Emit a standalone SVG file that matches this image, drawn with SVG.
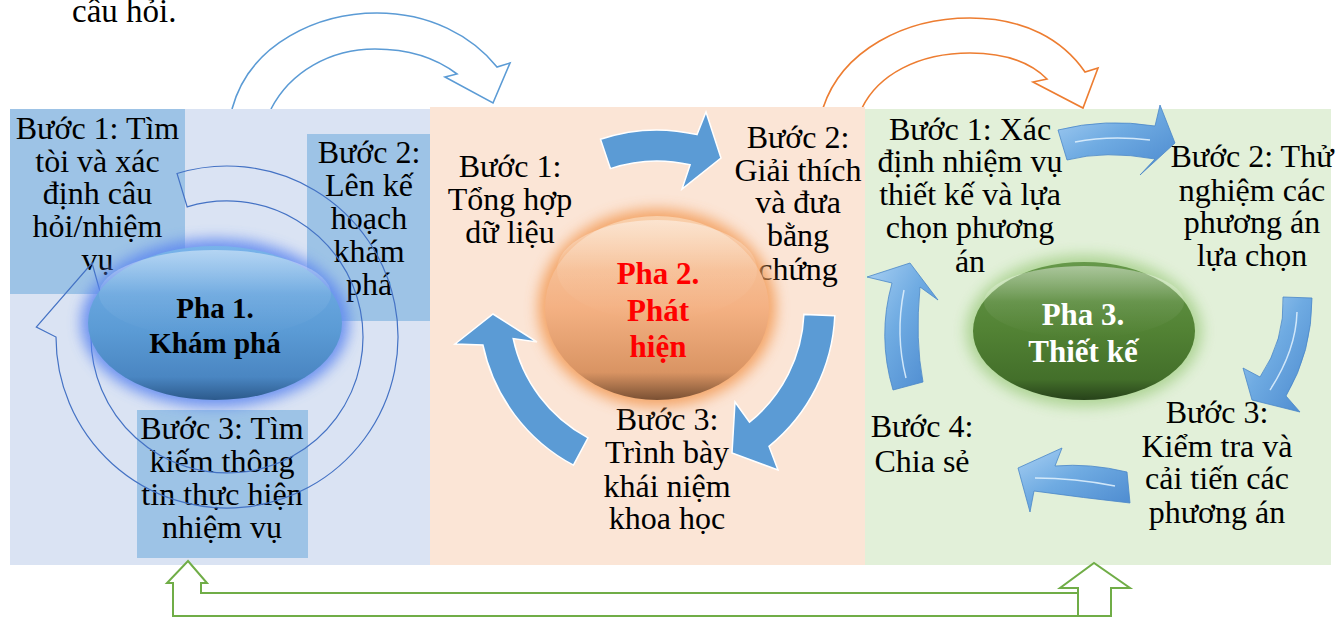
<svg xmlns="http://www.w3.org/2000/svg" width="1337" height="618" viewBox="0 0 1337 618">
<style>
.t{font-family:"Liberation Serif","Times New Roman",serif;font-size:32px;fill:#000;text-anchor:middle}
.ph{font-family:"Liberation Serif","Times New Roman",serif;font-weight:bold;text-anchor:middle}
.bx{fill:#9DC3E6}
.a2{fill:#5B9BD5;stroke:#fff;stroke-width:1.5}
.a3{fill:url(#g3d);stroke:#4A86C8;stroke-width:0.8}
.hl{fill:none;stroke:#DDEEFC;stroke-width:1.5;opacity:0.9}
</style>
<defs>
<filter id="glow" x="-40%" y="-40%" width="180%" height="180%"><feGaussianBlur stdDeviation="7"/></filter>
<linearGradient id="gBlue" x1="0" y1="0" x2="0" y2="1">
<stop offset="0" stop-color="#78B3EA"/><stop offset="0.55" stop-color="#5B9BD5"/><stop offset="0.85" stop-color="#4A86C2"/><stop offset="1" stop-color="#2C5A8C"/></linearGradient>
<linearGradient id="gOr" x1="0" y1="0" x2="0" y2="1">
<stop offset="0" stop-color="#F9CFAA"/><stop offset="0.5" stop-color="#F4B183"/><stop offset="0.85" stop-color="#D99463"/><stop offset="1" stop-color="#7A5033"/></linearGradient>
<linearGradient id="gGr" x1="0" y1="0" x2="0" y2="1">
<stop offset="0" stop-color="#66984A"/><stop offset="0.5" stop-color="#528234"/><stop offset="0.85" stop-color="#436F2A"/><stop offset="1" stop-color="#27421A"/></linearGradient>
<linearGradient id="gHi" x1="0" y1="0" x2="0" y2="1">
<stop offset="0" stop-color="#fff" stop-opacity="0.45"/><stop offset="0.5" stop-color="#fff" stop-opacity="0.08"/><stop offset="1" stop-color="#fff" stop-opacity="0"/></linearGradient>
<linearGradient id="g3d" x1="0" y1="0" x2="1" y2="1">
<stop offset="0" stop-color="#A9D0F3"/><stop offset="0.45" stop-color="#6FABE2"/><stop offset="1" stop-color="#4A88CE"/></linearGradient>
</defs>

<text x="72" y="22" style="font-family:'Liberation Serif','Times New Roman',serif;font-size:33px">câu hỏi.</text>

<g id="connectors">
<path d="M232,109 C250,42 320,13 377,13 C430,13 472,36 497,67 L510,63 L493,103 L445,77 L457,74 C436,58 408,49 375,49 C330,49 290,72 271,109" fill="#fff" stroke="#5B9BD5" stroke-width="1.6"/>
<path d="M823,108 C842,50 905,18 970,18 C1025,18 1063,40 1085,72 L1098,68 L1083,108 L1033,82 L1047,79 C1030,62 1003,53 970,53 C918,53 878,75 862,108" fill="#fff" stroke="#ED7D31" stroke-width="1.6"/>
</g>

<g id="panel1">
<rect x="10" y="109" width="420" height="456" fill="#DAE3F3"/>
<rect class="bx" x="10" y="109" width="175" height="185"/>
<rect class="bx" x="307" y="134" width="123" height="187"/>
<rect class="bx" x="137" y="410" width="171" height="148"/>
</g>
<g id="panel2"><rect x="430" y="107" width="435" height="458" fill="#FBE5D6"/></g>
<g id="panel3"><rect x="865" y="109" width="466" height="456" fill="#E2F0D9"/></g>

<g id="p1-steps">
<text class="t" x="97.5" y="139">Bước 1: Tìm</text>
<text class="t" x="97.5" y="172">tòi và xác</text>
<text class="t" x="97.5" y="204">định câu</text>
<text class="t" x="97.5" y="237">hỏi/nhiệm</text>
<text class="t" x="97.5" y="270">vụ</text>
<text class="t" x="369" y="163">Bước 2:</text>
<text class="t" x="369" y="196">Lên kế</text>
<text class="t" x="369" y="229">hoạch</text>
<text class="t" x="369" y="262">khám</text>
<text class="t" x="369" y="295">phá</text>
<text class="t" x="222" y="439">Bước 3: Tìm</text>
<text class="t" x="222" y="472">kiếm thông</text>
<text class="t" x="222" y="505">tin thực hiện</text>
<text class="t" x="222" y="538">nhiệm vụ</text>
</g>

<g id="p1-cycle">
<path d="M177,173.5 A171,171 0 1 1 56,337 L36.3,327 L92,263 L111.2,330.9 L91,337 A136,136 0 1 0 187.2,206.9 Z" fill="none" stroke="#4472C4" stroke-width="1.2"/>
</g>

<g id="pha1">
<ellipse cx="215" cy="323" rx="134" ry="84" fill="#5A84F0" opacity="0.85" filter="url(#glow)"/>
<ellipse cx="215" cy="323" rx="127" ry="77" fill="url(#gBlue)"/>
<ellipse cx="215" cy="294" rx="116" ry="44" fill="url(#gHi)"/>
<text class="ph" x="215" y="318" font-size="29">Pha 1.</text>
<text class="ph" x="215" y="353" font-size="29">Khám phá</text>
</g>

<g id="p2-steps">
<text class="t" x="510" y="177">Bước 1:</text>
<text class="t" x="510" y="210">Tổng hợp</text>
<text class="t" x="510" y="243">dữ liệu</text>
<text class="t" x="798" y="148">Bước 2:</text>
<text class="t" x="798" y="181">Giải thích</text>
<text class="t" x="798" y="213">và đưa</text>
<text class="t" x="798" y="246">bằng</text>
<text class="t" x="798" y="280">chứng</text>
<text class="t" x="667" y="430">Bước 3:</text>
<text class="t" x="667" y="463">Trình bày</text>
<text class="t" x="667" y="497">khái niệm</text>
<text class="t" x="667" y="529">khoa học</text>
</g>

<g id="p2-arrows">
<path class="a2" d="M600.5,139.2 A178,178 0 0 1 697,134.6 L706,112 L721,158 L682,189 L690.1,164.8 A147,147 0 0 0 610.4,168.6 Z"/>
<path class="a2" d="M834.8,315.8 A178,178 0 0 1 769,446.3 L778,470 L732,453 L735,402 L749.5,422.2 A147,147 0 0 0 803.9,314.4 Z"/>
<path class="a2" d="M573.4,465.2 A178,178 0 0 1 482.9,345 L455,344 L493,314 L537,342 L513.2,338.6 A147,147 0 0 0 588,437.8 Z"/>
</g>

<g id="pha2">
<ellipse cx="657" cy="308" rx="119" ry="99" fill="#F39A55" opacity="0.85" filter="url(#glow)"/>
<ellipse cx="657" cy="308" rx="112" ry="92" fill="url(#gOr)"/>
<ellipse cx="657" cy="270" rx="100" ry="50" fill="url(#gHi)"/>
<text class="ph" x="658" y="284" font-size="31" fill="#FF0000">Pha 2.</text>
<text class="ph" x="658" y="321" font-size="31" fill="#FF0000">Phát</text>
<text class="ph" x="658" y="357" font-size="31" fill="#FF0000">hiện</text>
</g>

<g id="p3-steps">
<text class="t" x="970" y="140">Bước 1: Xác</text>
<text class="t" x="970" y="172">định nhiệm vụ</text>
<text class="t" x="970" y="205">thiết kế và lựa</text>
<text class="t" x="970" y="238">chọn phương</text>
<text class="t" x="970" y="272">án</text>
<text class="t" x="1252" y="167">Bước 2: Thử</text>
<text class="t" x="1252" y="201">nghiệm các</text>
<text class="t" x="1252" y="233">phương án</text>
<text class="t" x="1252" y="266">lựa chọn</text>
<text class="t" x="1217" y="423">Bước 3:</text>
<text class="t" x="1217" y="457">Kiểm tra và</text>
<text class="t" x="1217" y="489">cải tiến các</text>
<text class="t" x="1217" y="523">phương án</text>
<text class="t" x="922" y="437" font-size="34">Bước 4:</text>
<text class="t" x="922" y="472" font-size="34">Chia sẻ</text>
</g>

<g id="pha3">
<ellipse cx="1084" cy="331" rx="118" ry="76" fill="#A9D18E" opacity="0.9" filter="url(#glow)"/>
<ellipse cx="1084" cy="331" rx="111" ry="69" fill="url(#gGr)"/>
<ellipse cx="1084" cy="302" rx="100" ry="36" fill="url(#gHi)"/>
<text class="ph" x="1083" y="325" font-size="31" fill="#fff">Pha 3.</text>
<text class="ph" x="1083" y="362" font-size="31" fill="#fff">Thiết kế</text>
</g>

<g id="p3-arrows">
<path class="a3" d="M1058,130 Q1105,118 1155,126 L1160,105 L1175,143 L1140,175 L1155,159 Q1105,150 1067,160 Z"/>
<path class="hl" d="M1075,142 Q1110,135 1150,140"/>
<path class="a3" d="M1283,297 L1312,298 Q1312,352 1286,396 L1300,412 L1252,400 L1243,368 L1260,377 Q1285,340 1283,297 Z"/>
<path class="hl" d="M1297,312 Q1296,350 1270,390"/>
<path class="a3" d="M1127,472 Q1090,463 1055,466 L1062,448 L1018,468 L1030,512 L1034,491 Q1085,498 1130,503 Z"/>
<path class="hl" d="M1115,486 Q1075,478 1035,478"/>
<path class="a3" d="M893,390 Q877,336 892,283 L867,277 L910,263 L938,300 L920,287 Q915,340 923,382 Z"/>
<path class="hl" d="M906,378 Q895,335 904,290"/>
</g>

<g id="bottom-arrow">
<path d="M188,561 L207,583 L201,583 L201,593 L1078,593 L1078,588 L1060,588 L1094,563 L1130,588 L1111,588 L1111,616 L173,616 L173,583 L167,583 Z" fill="#fff" stroke="#70AD47" stroke-width="2"/>
<path d="M1078,593 L1078,616" fill="none" stroke="#70AD47" stroke-width="2"/>
</g>
</svg>
